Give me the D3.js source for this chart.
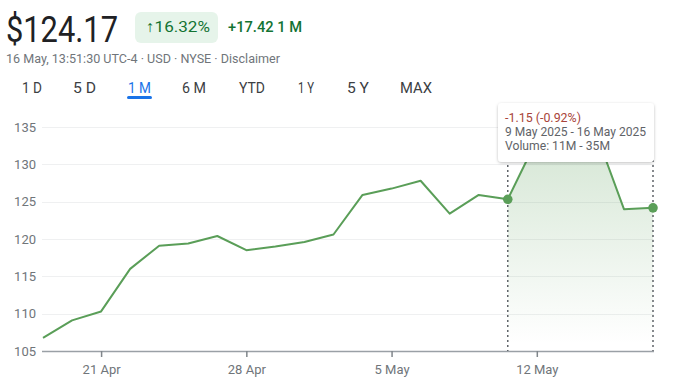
<!DOCTYPE html>
<html><head><meta charset="utf-8">
<script src="https://cdn.jsdelivr.net/npm/d3@7"></script>
<style>
html,body{margin:0;padding:0;background:#fff;}
svg{display:block;font-family:Roboto,Arial,sans-serif;}
</style></head>
<body><svg id="c" width="675" height="391"></svg>
<script>
const dates = ["16 Apr","17 Apr","21 Apr","22 Apr","23 Apr","24 Apr","25 Apr","28 Apr","29 Apr","30 Apr","1 May","2 May","5 May","6 May","7 May","8 May","9 May","12 May","13 May","14 May","15 May","16 May"];
const prices = [106.75,109.1,110.3,116.0,119.1,119.4,120.4,118.5,119.0,119.6,120.6,125.9,126.75,127.8,123.4,125.9,125.32,133.3,134.0,134.6,124.0,124.17];
const yTicks = [105,110,115,120,125,130,135];
const xTickLabels = ["21 Apr","28 Apr","5 May","12 May"];
const tabs = ["1 D","5 D","1 M","6 M","YTD","1 Y","5 Y","MAX"];
const selStart = "9 May", selEnd = "16 May";
const tooltipLines = ["-1.15 (-0.92%)","9 May 2025 - 16 May 2025","Volume: 11M - 35M"];

const svg = d3.select("#c");
const green = "#5a9e58";

// Header
svg.append("text").attr("x",6).attr("y",42).attr("font-size",37).attr("fill","#202124")
  .attr("textLength",112).attr("lengthAdjust","spacingAndGlyphs").text("$124.17");
svg.append("rect").attr("x",135).attr("y",12).attr("width",83).attr("height",31).attr("rx",6).attr("fill","#e6f4ea");
svg.append("text").attr("x",146).attr("y",32).attr("font-size",15.5).attr("fill","#137333")
  .attr("textLength",64).attr("lengthAdjust","spacingAndGlyphs").text("↑16.32%");
svg.append("text").attr("x",228).attr("y",32).attr("font-size",15.5).attr("font-weight",500).attr("fill","#137333")
  .attr("textLength",74).attr("lengthAdjust","spacingAndGlyphs").text("+17.42 1 M");
svg.append("text").attr("x",6).attr("y",63).attr("font-size",12.5).attr("fill","#70757a")
  .attr("textLength",274).attr("lengthAdjust","spacingAndGlyphs").text("16 May, 13:51:30 UTC-4 · USD · NYSE · Disclaimer");

const tabX = [22,73,128,182,239,298,347,400];
const tabW = [20,23,23,24,26,16,22,32];
tabs.forEach((t,i)=>{
  svg.append("text").attr("x",tabX[i]).attr("y",93).attr("font-size",14.5)
    .attr("fill", t==="1 M" ? "#1a73e8" : "#3c4043").attr("font-weight",400)
    .attr("textLength",tabW[i]).attr("lengthAdjust","spacingAndGlyphs").text(t);
});
svg.append("line").attr("x1",128.5).attr("x2",150.5).attr("y1",97.5).attr("y2",97.5)
  .attr("stroke","#1a73e8").attr("stroke-width",3).attr("stroke-linecap","round");

// Scales
const x = d3.scaleLinear().domain([0, dates.length-1]).range([43, 653]);
const y = d3.scaleLinear().domain([105,135]).range([351,127]);
const x0 = 42, x1 = 654;

// Gridlines
svg.append("g").selectAll("line").data(yTicks.slice(1)).join("line")
  .attr("x1",x0).attr("x2",x1).attr("y1",d=>Math.round(y(d))+0.5).attr("y2",d=>Math.round(y(d))+0.5)
  .attr("stroke","#eff0f1").attr("stroke-width",1);
svg.append("g").selectAll("text").data(yTicks).join("text")
  .attr("x",36).attr("y",d=>y(d)+4.5).attr("text-anchor","end").attr("font-size",13).attr("fill","#70757a")
  .text(d=>d);

// Gradient area for selection
const si = dates.indexOf(selStart), ei = dates.indexOf(selEnd);
const defs = svg.append("defs");
const grad = defs.append("linearGradient").attr("id","g")
  .attr("gradientUnits","userSpaceOnUse").attr("x1",0).attr("y1",y(134)).attr("x2",0).attr("y2",y(106));
grad.append("stop").attr("offset",0).attr("stop-color","#5a9e58").attr("stop-opacity",0.26);
grad.append("stop").attr("offset",1).attr("stop-color","#5a9e58").attr("stop-opacity",0);
const idx = d3.range(si, ei+1);
svg.append("path").datum(idx)
  .attr("d", d3.area().x(i=>x(i)).y0(y(105)).y1(i=>y(prices[i])))
  .attr("fill","url(#g)");

// Axis
const xAxis = d3.axisBottom(x).tickValues(xTickLabels.map(l=>dates.indexOf(l)))
  .tickFormat(i=>dates[i]).tickSize(6).tickSizeOuter(0);
const ax = svg.append("g").attr("transform",`translate(0,${y(105)})`).call(xAxis);
ax.select(".domain").attr("d",`M${x0},0.5H${x1}`).attr("stroke","#9aa0a6").attr("stroke-width",1.5);
ax.selectAll(".tick line").attr("stroke","#80868b").attr("stroke-width",1.5);
ax.selectAll(".tick text").attr("font-size",13).attr("fill","#70757a").attr("font-family","Roboto,Arial,sans-serif")
  .attr("dy","1.1em");

// Dotted selection lines
[si, ei].forEach(i=>{
  svg.append("line").attr("x1",x(i)).attr("x2",x(i)).attr("y1",160).attr("y2",y(105))
    .attr("stroke","#5f6368").attr("stroke-width",1.5).attr("stroke-dasharray","2,3");
});

// Line
svg.append("path").datum(prices)
  .attr("d", d3.line().x((d,i)=>x(i)).y(d=>y(d)))
  .attr("fill","none").attr("stroke",green).attr("stroke-width",2).attr("stroke-linejoin","round");

[si, ei].forEach(i=>{
  svg.append("circle").attr("cx",x(i)).attr("cy",y(prices[i])).attr("r",4.8).attr("fill",green);
});

// Tooltip
const f = defs.append("filter").attr("id","sh").attr("x","-20%").attr("y","-30%").attr("width","140%").attr("height","170%");
f.append("feDropShadow").attr("dx",0).attr("dy",1).attr("stdDeviation",1.6).attr("flood-color","#000").attr("flood-opacity",0.25);
svg.append("rect").attr("x",498).attr("y",103).attr("width",156).attr("height",59).attr("rx",4)
  .attr("fill","#fff").attr("filter","url(#sh)");
const tcol = ["#a8443a","#5f6368","#5f6368"];
const tlen = [76,141,105];
tooltipLines.forEach((t,i)=>{
  svg.append("text").attr("x",505).attr("y",122+i*14).attr("font-size",13).attr("fill",tcol[i])
    .attr("textLength",tlen[i]).attr("lengthAdjust","spacingAndGlyphs").text(t);
});
</script></body></html>
